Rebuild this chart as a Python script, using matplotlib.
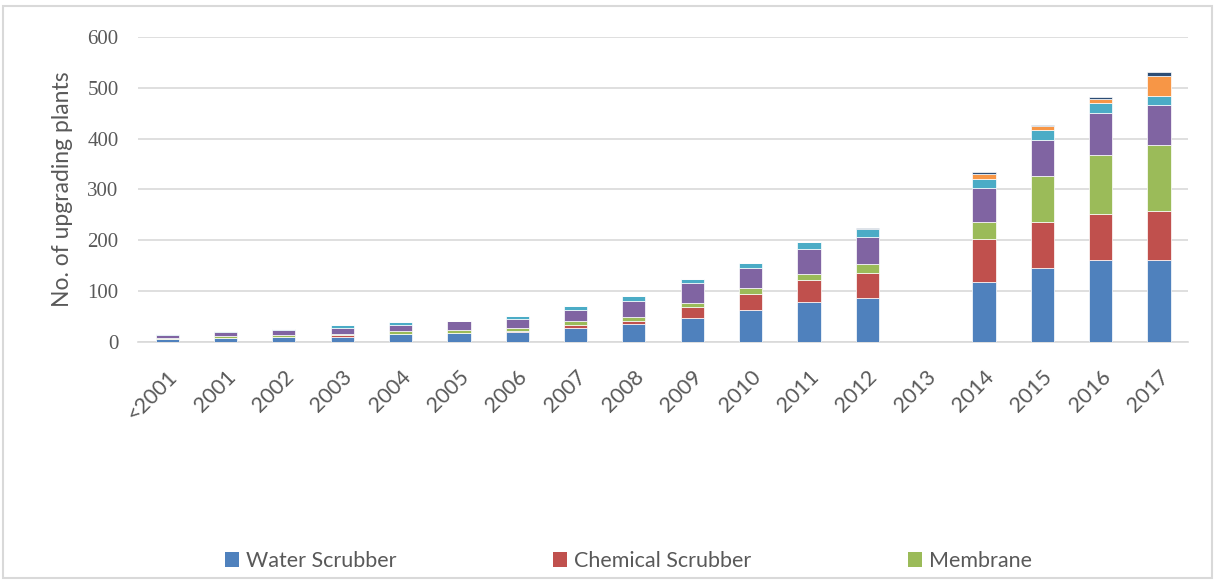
import matplotlib.pyplot as plt
import matplotlib.transforms as mtransforms
import numpy as np
from matplotlib.patches import Rectangle, Patch

years = ["<2001", "2001", "2002", "2003", "2004", "2005", "2006", "2007", "2008",
         "2009", "2010", "2011", "2012", "2013", "2014", "2015", "2016", "2017"]

water_scrubber = [5, 8, 10, 10, 16, 18, 20, 28, 35, 48, 63, 78, 86, 0, 118, 146, 161, 161]
chemical_scrubber = [1, 0, 0, 3, 0, 0, 2, 5, 6, 20, 31, 43, 50, 0, 85, 90, 91, 96]
membrane = [2, 3, 4, 3, 5, 5, 5, 8, 9, 8, 12, 12, 17, 0, 33, 90, 115, 131]
psa = [6, 8, 10, 12, 13, 18, 18, 22, 31, 40, 40, 50, 53, 0, 67, 71, 84, 78]
organic_scrubber = [2, 2, 2, 6, 5, 1, 7, 8, 10, 8, 10, 14, 16, 0, 18, 20, 20, 18]
cryogenic = [0, 0, 0, 0, 0, 0, 0, 0, 0, 0, 0, 0, 0, 0, 10, 7, 7, 39]
other = [0, 0, 0, 0, 0, 0, 0, 0, 0, 0, 0, 0, 3, 0, 3, 3, 3, 8]

series = [
    ("Water Scrubber", water_scrubber, "#4F81BD"),
    ("Chemical Scrubber", chemical_scrubber, "#C0504D"),
    ("Membrane", membrane, "#9BBB59"),
    ("PSA", psa, "#8064A2"),
    ("Organic Physical Scrubber", organic_scrubber, "#4BACC6"),
    ("Cryogenic", cryogenic, "#F79646"),
    ("Other", other, "#2C4D75"),
]

grey = "#595959"
plt.rcParams["font.family"] = ["Lato", "DejaVu Sans"]

fig = plt.figure(figsize=(12.15, 5.81), dpi=100)
ax = fig.add_axes([138 / 1215, 239 / 581, 1050 / 1215, 305 / 581])

x = np.arange(len(years))
bottom = np.zeros(len(years))
for name, vals, col in series:
    ax.bar(x, vals, 0.4, bottom=bottom, color=col, label=name,
           edgecolor="white", linewidth=0.5, zorder=3)
    bottom += np.array(vals)

ax.set_xlim(-0.5, len(years) - 0.5)
ax.set_ylim(0, 600)
ax.set_yticks(range(0, 601, 100))
ax.grid(axis="y", color="#D9D9D9", linewidth=1.2, zorder=0)
for s in ["top", "right", "left"]:
    ax.spines[s].set_visible(False)
ax.spines["bottom"].set_color("#D9D9D9")
ax.spines["bottom"].set_linewidth(1.2)
ax.tick_params(length=0)
ax.tick_params(axis="y", pad=14)

ax.set_xticks(x)
ax.set_xticklabels(years, rotation=45, ha="right", rotation_mode="anchor",
                   fontsize=15.5, color=grey)
shift = mtransforms.ScaledTranslation(-8 / 100, 0, fig.dpi_scale_trans)
for lab in ax.get_xticklabels():
    lab.set_transform(lab.get_transform() + shift)
for lab in ax.get_yticklabels():
    lab.set_fontfamily("Liberation Serif")
    lab.set_fontsize(15)
    lab.set_color(grey)
ax.tick_params(axis="x", pad=18)

ax.set_ylabel("No. of upgrading plants", fontsize=16.5, color=grey, labelpad=10)

handles = [Patch(facecolor=c) for _, _, c in series[:3]]
labels = [n for n, _, _ in series[:3]]
fig.legend(handles, labels, loc="center left", bbox_to_anchor=(206 / 1215, 1 - 561 / 581),
           ncol=3, frameon=False, fontsize=15.5, labelcolor=grey,
           handlelength=0.65, handleheight=0.65, handletextpad=0.3, columnspacing=7.3)

fig.patches.append(Rectangle((3 / 1215, 3 / 581), 1209 / 1215, 572 / 581,
                             transform=fig.transFigure, fill=False,
                             edgecolor="#D9D9D9", linewidth=1.5))

fig.savefig("out.png", dpi=100)
